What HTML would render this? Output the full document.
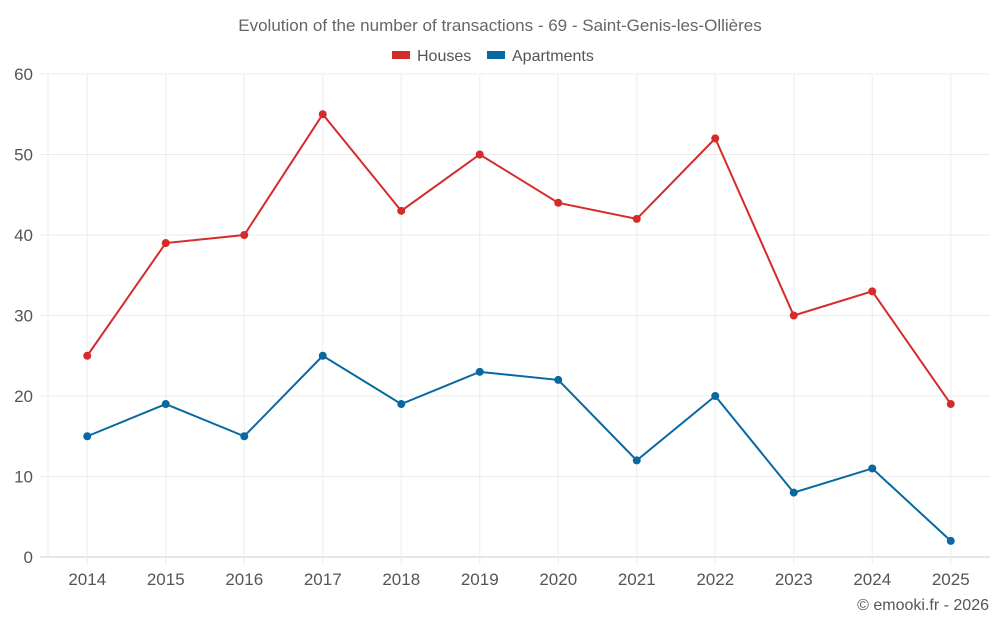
<!DOCTYPE html>
<html><head><meta charset="utf-8"><style>
body{margin:0;background:#fff;}
svg{font-family:"Liberation Sans",sans-serif;}
</style></head><body>
<svg width="1000" height="625" viewBox="0 0 1000 625">
<text x="500" y="31" text-anchor="middle" font-size="17" fill="#666">Evolution of the number of transactions - 69 - Saint-Genis-les-Ollières</text>
<g><rect x="392" y="51" width="18" height="8" fill="#d62b2b"/><text x="417" y="61" font-size="16" fill="#555">Houses</text></g>
<g><rect x="487" y="51" width="18" height="8" fill="#0868a1"/><text x="512" y="61" font-size="16" fill="#555">Apartments</text></g>
<g id="grid"></g><g id="axes"></g><g id="series"></g>
<text x="989" y="610" text-anchor="end" font-size="16" fill="#555">© emooki.fr - 2026</text>
</svg>
<script>
const categories=["2014","2015","2016","2017","2018","2019","2020","2021","2022","2023","2024","2025"];
const houses=[25,39,40,55,43,50,44,42,52,30,33,19];
const apartments=[15,19,15,25,19,23,22,12,20,8,11,2];
const yTicks=[0,10,20,30,40,50,60];
const L=48,R=990,T=74,B=557,yMax=60;
const bw=(R-L)/categories.length;
const xs=i=>L+bw*(i+0.5);
const ys=v=>B-(v/yMax)*(B-T);
const NS="http://www.w3.org/2000/svg";
function mk(t,a,p){const e=document.createElementNS(NS,t);for(const k in a)e.setAttribute(k,a[k]);p.appendChild(e);return e;}
const g=document.getElementById('grid'),ax=document.getElementById('axes'),s=document.getElementById('series');
yTicks.forEach(v=>{
 const l=mk('line',{x1:40,x2:R,y1:ys(v),y2:ys(v),stroke:v===0?'#ccc':'#ebebeb'},g);
 
 
 const t=mk('text',{x:33,y:ys(v)+6,'text-anchor':'end','font-size':17,fill:'#555'},ax);t.textContent=v;
 
 
});
mk('line',{x1:L,x2:L,y1:T,y2:B,stroke:'#ebebeb'},g);
categories.forEach((c,i)=>{
 const l=mk('line',{x1:xs(i),x2:xs(i),y1:T,y2:B+8,stroke:'#ededed'},g);
 
 
 const t=mk('text',{x:xs(i),y:585,'text-anchor':'middle','font-size':17,fill:'#555'},ax);t.textContent=c;
 
 
});
function draw(vals,col,name){
 const p=mk('polyline',{points:vals.map((v,i)=>xs(i)+','+ys(v)).join(' '),fill:'none',stroke:col,'stroke-width':2},s);
 
 
 vals.forEach((v,i)=>{const c=mk('circle',{cx:xs(i),cy:ys(v),r:4,fill:col},s);
 
 });
}
draw(houses,'#d62b2b','houses');
draw(apartments,'#0868a1','apartments');
</script>
</body></html>
